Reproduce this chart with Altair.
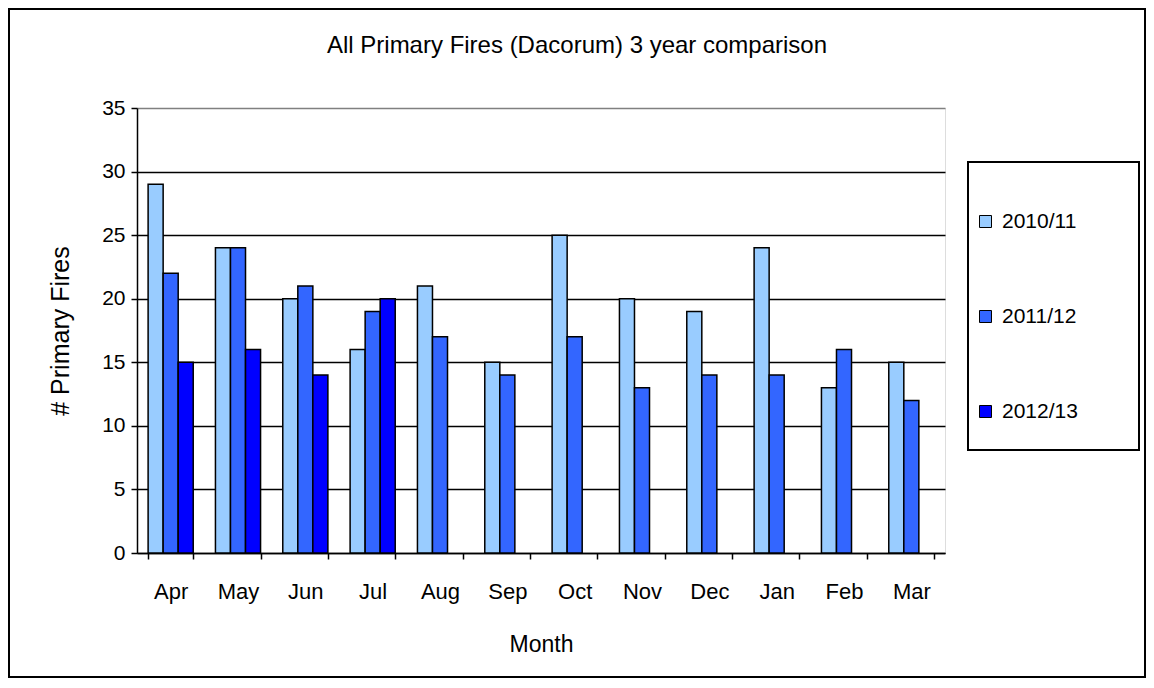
import altair as alt
import pandas as pd

months = ["Apr", "May", "Jun", "Jul", "Aug", "Sep", "Oct", "Nov", "Dec", "Jan", "Feb", "Mar"]
series = ["2010/11", "2011/12", "2012/13"]
fires_2010_11 = [29, 24, 20, 16, 21, 15, 25, 20, 19, 24, 13, 15]
fires_2011_12 = [22, 24, 21, 19, 17, 14, 17, 13, 14, 14, 16, 12]
fires_2012_13 = [15, 16, 14, 20]
colors = ["#99CCFF", "#3366FF", "#0000FF"]
y_ticks = [0, 5, 10, 15, 20, 25, 30, 35]

rows = []
for s, vals in zip(series, [fires_2010_11, fires_2011_12, fires_2012_13]):
    for m, v in zip(months, vals):
        rows.append({"Month": m, "Year": s, "Fires": v})
df = pd.DataFrame(rows)

FONT = "Liberation Sans"

frame_df = pd.DataFrame({"k": [0]})
outer_frame = alt.Chart(frame_df).mark_rect(
    fillOpacity=0, stroke="black", strokeWidth=2
).encode(
    x=alt.value(-128), x2=alt.value(1008), y=alt.value(-99), y2=alt.value(569)
)
legend_frame = alt.Chart(frame_df).mark_rect(
    fillOpacity=0, stroke="black", strokeWidth=2
).encode(
    x=alt.value(831), x2=alt.value(1002), y=alt.value(54), y2=alt.value(342)
)

bars = alt.Chart(df).mark_bar(stroke="black", strokeWidth=1.5).encode(
    x=alt.X(
        "Month:N",
        sort=months,
        scale=alt.Scale(paddingInner=0.33, paddingOuter=0.165),
        axis=alt.Axis(
            title="Month",
            labelAngle=0,
            tickBand="extent",
            grid=False,
            domainColor="black",
            domainWidth=1.5,
            tickColor="black",
            tickWidth=1.5,
            tickSize=6,
            labelPadding=22,
            labelFontSize=22,
            labelColor="black",
            labelFont=FONT,
            titleFont=FONT,
            titleFontSize=23,
            titleFontWeight="normal",
            titleColor="black",
            titlePadding=31,
        ),
    ),
    xOffset=alt.XOffset(
        "Year:N", sort=series,
        scale=alt.Scale(domain=series, paddingInner=0, paddingOuter=0),
    ),
    y=alt.Y(
        "Fires:Q",
        scale=alt.Scale(domain=[0, 35], nice=False),
        axis=alt.Axis(
            values=y_ticks,
            title="# Primary Fires",
            grid=True,
            gridColor={"condition": {"test": "datum.value === 35", "value": "#808080"}, "value": "black"},
            gridWidth=1.5,
            domainColor="black",
            domainWidth=1.5,
            tickColor="black",
            tickWidth=1.5,
            tickSize=6,
            labelPadding=6,
            labelFontSize=21,
            labelColor="black",
            labelFont=FONT,
            titleFont=FONT,
            titleFontSize=25,
            titleFontWeight="normal",
            titleColor="black",
            titlePadding=28,
        ),
    ),
    color=alt.Color(
        "Year:N",
        scale=alt.Scale(domain=series, range=colors),
        legend=alt.Legend(
            title=None,
            orient="none",
            legendX=838,
            legendY=103,
            padding=0,
            rowPadding=73,
            symbolType="square",
            symbolSize=144,
            symbolStrokeColor="black",
            symbolStrokeWidth=1,
            symbolOpacity=1,
            labelFontSize=21,
            labelFont=FONT,
            labelColor="black",
            labelOffset=6,
        ),
    ),
)

chart = alt.layer(outer_frame, legend_frame, bars).properties(
    width=808,
    height=445,
    autosize=alt.AutoSizeParams(type="none"),
    padding={"left": 129, "top": 100, "right": 201, "bottom": 125},
    title=alt.Title(
        "All Primary Fires (Dacorum) 3 year comparison",
        fontSize=24,
        fontWeight="normal",
        font=FONT,
        color="black",
        dx=36,
        offset=-50,
    ),
).configure_view(
    stroke="#808080", strokeWidth=1.5
).configure(
    font=FONT, background="white"
)

chart.save("out.html", embed_options={"renderer": "svg", "actions": False})
